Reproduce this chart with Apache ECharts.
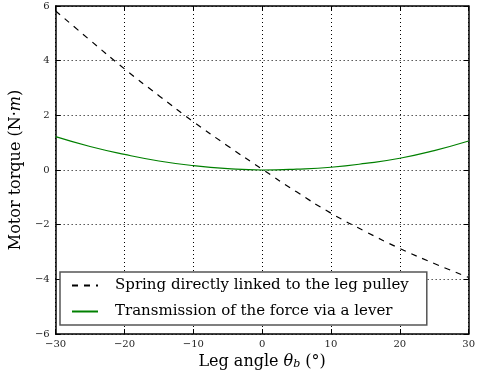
<!DOCTYPE html>
<html>
<head>
<meta charset="utf-8">
<script src="https://cdn.jsdelivr.net/npm/echarts@6/dist/echarts.min.js"></script>
<style>
  html, body { margin: 0; padding: 0; background: #fff; }
  #chart { width: 478px; height: 377px; }
</style>
</head>
<body>
<div id="chart"></div>
<script>
// 腿角度 (deg)
var angles = [-30, -25, -20, -15, -10, -5, 0, 5, 10, 15, 20, 25, 30];
// 弹簧直接连在腿滑轮上
var springTorque = [5.82, 4.75, 3.70, 2.72, 1.77, 0.88, 0.03, -0.80, -1.58, -2.25, -2.87, -3.42, -3.93];
// 通过杠杆传递力
var leverTorque = [1.22, 0.86, 0.57, 0.33, 0.16, 0.05, 0.0, 0.03, 0.10, 0.24, 0.43, 0.71, 1.06];
var seriesNames = ['Spring directly linked to the leg pulley', 'Transmission of the force via a lever'];

function pairs(xs, ys) {
  return xs.map(function (x, i) { return [x, ys[i]]; });
}

var serif = '"DejaVu Serif", "Liberation Serif", serif';
var chart = echarts.init(document.getElementById('chart'));

var tickStyle = { show: true, inside: true, length: 5, lineStyle: { color: '#000', width: 1 } };
var gridLine = { show: true, lineStyle: { color: '#000', type: [1, 3], width: 1 } };

var option = {
  animation: false,
  backgroundColor: '#fff',
  grid: { left: 52, right: 2, top: 6, bottom: 43, containLabel: false },
  legend: {
    orient: 'vertical',
    left: 60,
    top: 272,
    padding: [6, 18, 6, 11],
    itemGap: 11,
    itemWidth: 26,
    itemHeight: 16,
    backgroundColor: '#fff',
    borderColor: '#555',
    borderWidth: 1.5,
    borderRadius: 0,
    itemStyle: { opacity: 0 },
    textStyle: { fontFamily: serif, fontSize: 15, color: '#000', padding: [0, 0, 0, 12] },
    data: seriesNames
  },
  xAxis: [{
    type: 'value', min: -30, max: 30, interval: 10, position: 'bottom',
    axisLine: { show: true, onZero: false, lineStyle: { color: '#000', width: 1.5 } },
    axisTick: tickStyle,
    axisLabel: {
      fontFamily: serif, fontSize: 10, color: '#222', margin: 5,
      formatter: function (v) { return String(v).replace('-', '\u2212'); }
    },
    splitLine: gridLine,
    name: '{t|Leg angle }{i|\u03b8}{s|b}{t| (\u00b0)}',
    nameLocation: 'middle',
    nameGap: 16,
    nameTextStyle: {
      rich: {
        t: { fontFamily: serif, fontSize: 16, color: '#000' },
        i: { fontFamily: serif, fontSize: 16, fontStyle: 'italic', color: '#000' },
        s: { fontFamily: serif, fontSize: 11, fontStyle: 'italic', color: '#000', verticalAlign: 'bottom', lineHeight: 12 }
      }
    }
  }, {
    type: 'value', min: -30, max: 30, interval: 10, position: 'top',
    axisLine: { show: true, onZero: false, lineStyle: { color: '#000', width: 1.5 } },
    axisTick: tickStyle,
    axisLabel: { show: false },
    splitLine: { show: false }
  }],
  yAxis: [{
    type: 'value', min: -6, max: 6, interval: 2, position: 'left',
    axisLine: { show: true, onZero: false, lineStyle: { color: '#000', width: 1.5 } },
    axisTick: tickStyle,
    axisLabel: {
      fontFamily: serif, fontSize: 10, color: '#222', margin: 6,
      formatter: function (v) { return String(v).replace('-', '\u2212'); }
    },
    splitLine: gridLine,
    name: '{t|Motor torque (N\u00b7}{i|m}{t|)}',
    nameLocation: 'middle',
    nameGap: 30,
    nameRotate: 90,
    nameTextStyle: {
      rich: {
        t: { fontFamily: serif, fontSize: 16, color: '#000' },
        i: { fontFamily: serif, fontSize: 16, fontStyle: 'italic', color: '#000' }
      }
    }
  }, {
    type: 'value', min: -6, max: 6, interval: 2, position: 'right',
    axisLine: { show: true, onZero: false, lineStyle: { color: '#000', width: 1.5 } },
    axisTick: tickStyle,
    axisLabel: { show: false },
    splitLine: { show: false }
  }],
  series: [{
    name: seriesNames[0],
    type: 'line',
    smooth: true,
    symbol: 'none',
    data: pairs(angles, springTorque),
    lineStyle: { color: '#000', width: 1.2, type: [6, 6] },
    itemStyle: { color: '#000' }
  }, {
    name: seriesNames[1],
    type: 'line',
    smooth: true,
    symbol: 'none',
    data: pairs(angles, leverTorque),
    lineStyle: { color: '#008000', width: 1.2 },
    itemStyle: { color: '#008000' }
  }]
};

chart.setOption(option);
</script>
</body>
</html>
